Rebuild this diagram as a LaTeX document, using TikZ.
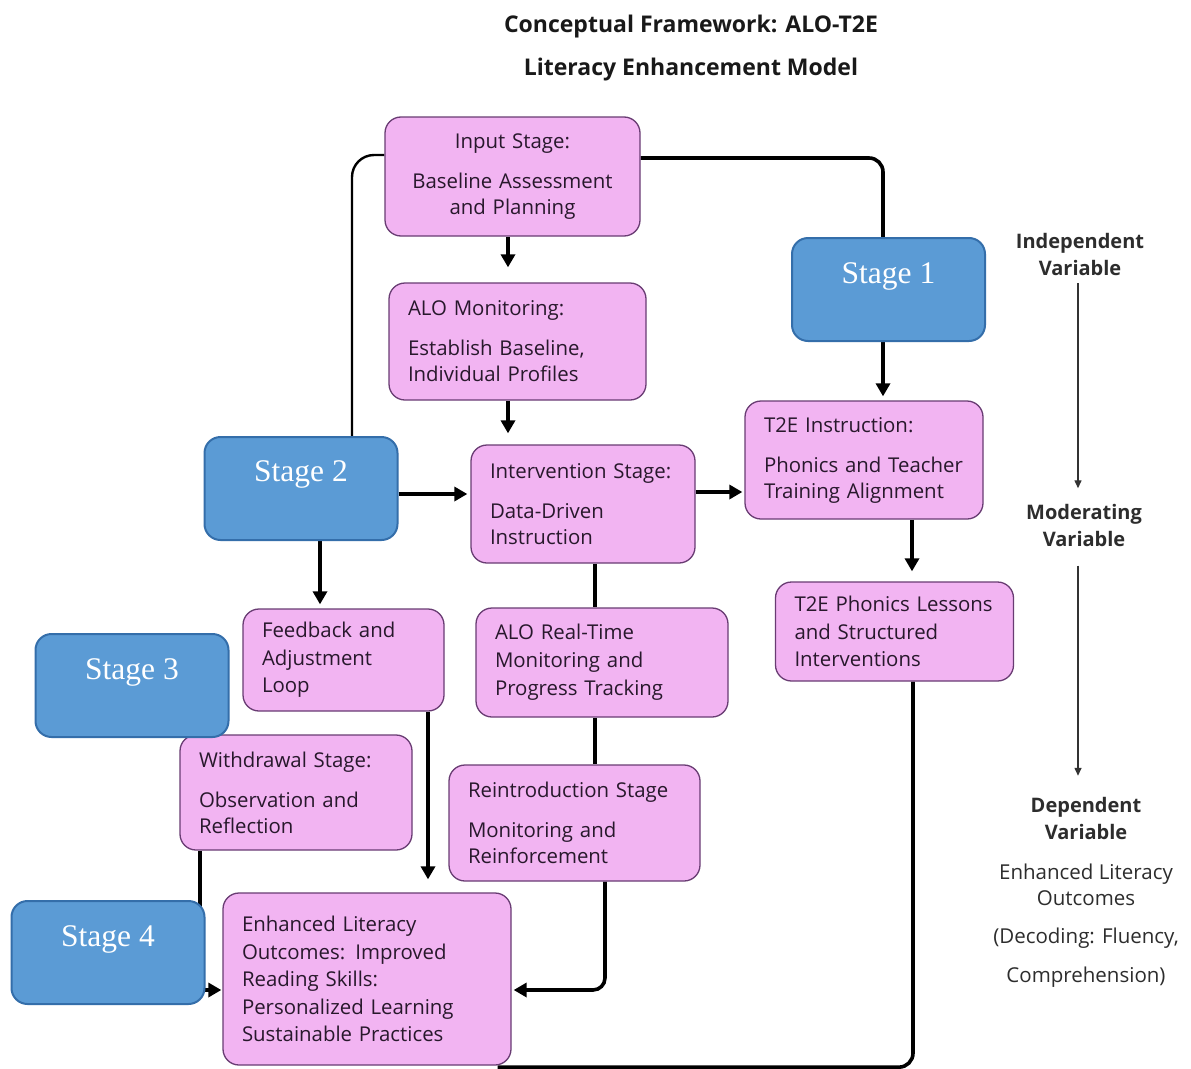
\documentclass[tikz,border=0pt]{standalone}
\usepackage{fontspec}
\setmainfont{Open Sans}
\newfontfamily\stagefont{Liberation Serif}
\usetikzlibrary{arrows.meta}
\pgfdeclarelayer{bg}
\pgfsetlayers{bg,main}

\definecolor{pfill}{RGB}{242,180,242}
\definecolor{pborder}{RGB}{105,60,115}
\definecolor{ptext}{RGB}{40,24,44}
\definecolor{sfill}{RGB}{91,155,213}
\definecolor{sborder}{RGB}{52,110,170}
\definecolor{vtext}{RGB}{45,45,45}

\tikzset{
  pbox/.style={draw=pborder, fill=pfill, rounded corners=16pt, line width=1.3pt,
    text=ptext, inner xsep=19pt, inner ysep=0pt, align=left,
    font=\fontsize{20.4}{26}\selectfont},
  sbox/.style={draw=sborder, fill=sfill, rounded corners=16pt, line width=2pt,
    minimum width=193pt, minimum height=103pt},
  stxt/.style={text=white, font=\stagefont\fontsize{31.5}{34}\selectfont},
  conn/.style={line width=3.6pt, -{Triangle[length=13pt,width=14pt]}},
  plain/.style={line width=3.6pt},
  thinconn/.style={line width=2.4pt},
  vhead/.style={text=vtext, align=center, font=\bfseries\fontsize{20}{27}\selectfont},
  vbody/.style={text=vtext, align=center, font=\fontsize{20.5}{26}\selectfont},
  varrow/.style={line width=1.4pt, draw=black!80, -{Triangle[length=8pt,width=7pt]}},
  ttl/.style={font=\bfseries\fontsize{23}{26}\selectfont, text=black!90}
}

\begin{document}
\begin{tikzpicture}[x=1pt,y=-1pt]
\useasboundingbox (0,0) rectangle (1191,1068);

% title
\node[ttl] (t1) at (691,27) {Conceptual Framework: ALO-T2E};
\node[ttl] (t2) at (691,70) {Literacy Enhancement Model};

% process boxes
\node[pbox, align=center, minimum width=255pt, minimum height=119pt, text width=217pt] (input) at (512.5,176.5)
  {Input Stage:\\[14pt]Baseline Assessment\\and Planning};
\node[pbox, minimum width=257pt, minimum height=117pt, text width=219pt] (alomon) at (517.5,341.5)
  {ALO Monitoring:\\[14pt]Establish Baseline,\\Individual Profiles};
\node[pbox, minimum width=224pt, minimum height=118pt, text width=186pt] (interv) at (583,504)
  {Intervention Stage:\\[14pt]Data-Driven\\Instruction};
\node[pbox, minimum width=238pt, minimum height=118pt, text width=200pt] (t2einst) at (864,460)
  {T2E Instruction:\\[14pt]Phonics and Teacher\\Training Alignment};
\node[pbox, font=\fontsize{20.4}{27.5}\selectfont, minimum width=233pt, minimum height=99pt, text width=200pt] (lessons) at (894.5,631.5)
  {T2E Phonics Lessons\\and Structured\\Interventions};
\node[pbox, font=\fontsize{20.4}{27.5}\selectfont, minimum width=201pt, minimum height=102pt, text width=163pt] (feedback) at (343.5,660)
  {Feedback and\\Adjustment\\Loop};
\node[pbox, font=\fontsize{20.4}{28}\selectfont, minimum width=252pt, minimum height=109pt, text width=214pt] (alort) at (602,662.5)
  {ALO Real-Time\\Monitoring and\\Progress Tracking};
\node[pbox, minimum width=232pt, minimum height=115pt, text width=194pt] (withdraw) at (296,792.5)
  {Withdrawal Stage:\\[14pt]Observation and\\Reflection};
\node[pbox, minimum width=251pt, minimum height=116pt, text width=213pt] (reintro) at (574.5,823)
  {Reintroduction Stage\\[14pt]Monitoring and\\Reinforcement};
\node[pbox, font=\fontsize{20.4}{27.5}\selectfont, minimum width=288pt, minimum height=172pt, text width=250pt] (enhanced) at (367,979)
  {Enhanced Literacy\\Outcomes: Improved\\Reading Skills:\\Personalized Learning\\Sustainable Practices};

% stage boxes
\node[sbox] (s1) at (888.5,289.5) {};
\node[stxt] (s1t) at ([yshift=-39pt]s1.north) {Stage 1};
\node[sbox] (s2) at (301,488.5) {};
\node[stxt] (s2t) at ([yshift=-38pt]s2.north) {Stage 2};
\node[sbox] (s3) at (132,685.5) {};
\node[stxt] (s3t) at ([yshift=-39pt]s3.north) {Stage 3};
\node[sbox] (s4) at (108,952.5) {};
\node[stxt] (s4t) at ([yshift=-39pt]s4.north) {Stage 4};

% variables column
\node[vhead] (iv) at (1080,254.5) {Independent\\Variable};
\node[vhead] (mv) at (1084,525) {Moderating\\Variable};
\node[vhead] (dv) at (1086,818.5) {Dependent\\Variable};
\node[vbody] (dvtxt) at (1086,885) {Enhanced Literacy\\Outcomes};
\node[vbody] (dvdec) at (1086,938) {(Decoding: Fluency,};
\node[vbody] (dvcomp) at (1086,977) {Comprehension)};

\begin{pgfonlayer}{bg}
\fill[white] (0,0) rectangle (1191,1068);
% vertical flow on the left column
\draw[conn, shorten >=15pt] ([xshift=-4.5pt]input.south) -- ([xshift=-4.5pt]input.south |- alomon.north);
\draw[conn, shorten >=11pt] ([xshift=-9.5pt]alomon.south) -- ([xshift=-9.5pt]alomon.south |- interv.north);
% loops from the input stage
\draw[thinconn, rounded corners=22pt] ([yshift=21.5pt]input.west) -| ([xshift=51pt]s2.north);
\draw[plain, rounded corners=14pt] ([yshift=18.5pt]input.east) -| ([xshift=-5.5pt]s1.north);
\draw[conn, shorten >=4pt] ([xshift=-5.5pt]s1.south) -- ([xshift=-5.5pt]s1.south |- t2einst.north);
% stage 2 links
\draw[conn, shorten >=3pt] ([yshift=-5.5pt]s2.east) -- ([yshift=-5.5pt]s2.east -| interv.west);
\draw[conn, shorten >=2pt] ([yshift=12pt]interv.east) -- ([yshift=12pt]interv.east -| t2einst.west);
\draw[conn, shorten >=10pt] ([xshift=48pt]t2einst.south) -- ([xshift=48pt]t2einst.south |- lessons.north);
\draw[conn, shorten >=4pt] ([xshift=19pt]s2.south) -- ([xshift=19pt]s2.south |- feedback.north);
% middle column
\draw[plain] ([xshift=12pt]interv.south) -- ([xshift=12pt]interv.south |- alort.north);
\draw[plain] ([xshift=-7pt]alort.south) -- ([xshift=-7pt]alort.south |- reintro.north);
% into the outcomes box
\draw[conn, shorten >=13pt] ([xshift=84.5pt]feedback.south) -- ([xshift=84.5pt]feedback.south |- enhanced.north);
\draw[conn, shorten >=1pt] ([xshift=-96pt]withdraw.south) |- ([yshift=-11pt]enhanced.west);
\draw[conn, rounded corners=12pt, shorten >=2pt] ([xshift=30.5pt]reintro.south) |- ([yshift=-11pt]enhanced.east);
\draw[plain, rounded corners=14pt] ([xshift=18.5pt]lessons.south) |- ([xshift=-14pt, yshift=-1.5pt]enhanced.south east);
% variables column arrows
\draw[varrow, shorten <=4pt, shorten >=12pt] ([xshift=-2pt]iv.south) -- ([xshift=-2pt]iv.south |- mv.north);
\draw[varrow, shorten <=16pt, shorten >=18pt] ([xshift=-6pt]mv.south) -- ([xshift=-6pt]mv.south |- dv.north);
\end{pgfonlayer}
\end{tikzpicture}
\end{document}
